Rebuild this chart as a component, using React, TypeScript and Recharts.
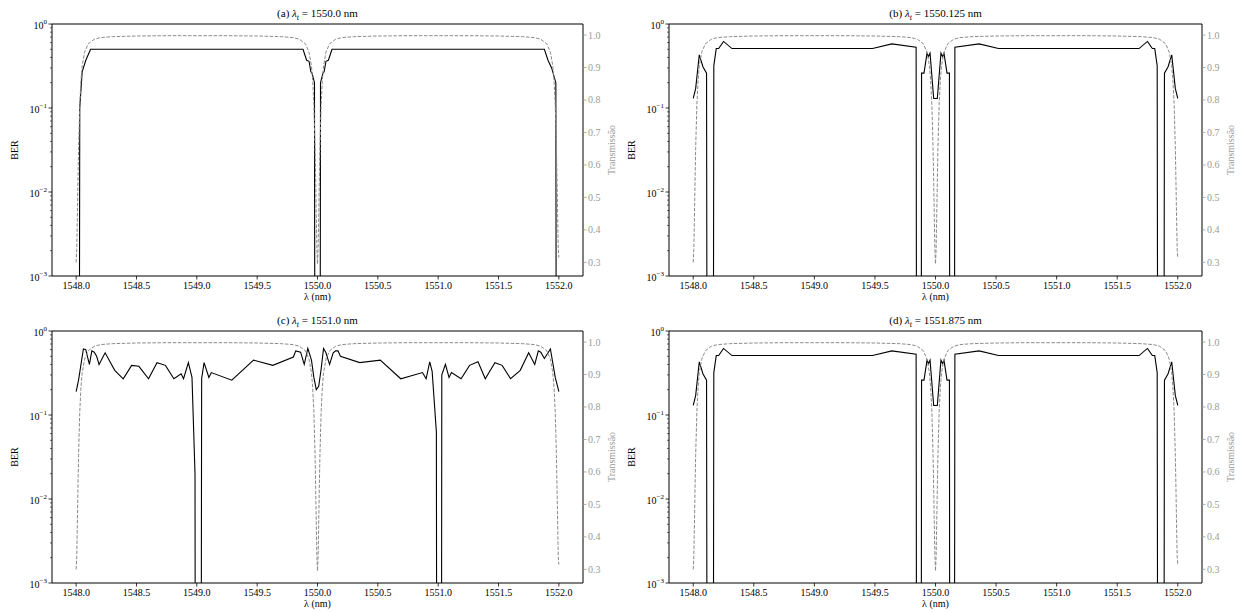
import React from 'react';
import { ComposedChart, Line, XAxis, YAxis, ReferenceLine } from 'recharts';

const FONT = '"Liberation Serif", "DejaVu Serif", serif';
const GREY = '#9a9a9a';
// BER of exactly 0: matplotlib clips these far below the log axis
const ZERO = 1e-30;

// filter transmission (dashed, right axis) – same in all four panels
const transWl = [
  1548.0, 1548.005, 1548.01, 1548.015, 1548.02, 1548.03, 1548.04, 1548.05, 1548.07, 1548.1,
  1548.15, 1548.2, 1548.3, 1548.5, 1548.75, 1549.0, 1549.25, 1549.5, 1549.7, 1549.8,
  1549.85, 1549.9, 1549.93, 1549.95, 1549.96, 1549.97, 1549.98, 1549.985, 1549.99, 1549.995,
  1550.0, 1550.005, 1550.01, 1550.015, 1550.02, 1550.03, 1550.04, 1550.05, 1550.07, 1550.1,
  1550.15, 1550.2, 1550.3, 1550.5, 1550.75, 1551.0, 1551.25, 1551.5, 1551.7, 1551.8,
  1551.85, 1551.9, 1551.93, 1551.95, 1551.96, 1551.97, 1551.98, 1551.985, 1551.99, 1551.995,
  1552.0,
];
const transVal = [
  0.3, 0.34, 0.44, 0.55, 0.65, 0.785, 0.86, 0.905, 0.947, 0.973,
  0.987, 0.992, 0.995, 0.997, 0.998, 0.998, 0.998, 0.997, 0.995, 0.992,
  0.987, 0.973, 0.947, 0.905, 0.86, 0.785, 0.65, 0.55, 0.44, 0.34,
  0.295, 0.34, 0.44, 0.55, 0.65, 0.785, 0.86, 0.905, 0.947, 0.973,
  0.987, 0.992, 0.995, 0.997, 0.998, 0.998, 0.998, 0.997, 0.995, 0.992,
  0.987, 0.973, 0.947, 0.905, 0.86, 0.785, 0.65, 0.55, 0.44, 0.34,
  0.315,
];

// (a) lambda_t = 1550.0 nm
const berWlA = [
  1548.0, 1548.03, 1548.05, 1548.08, 1548.12, 1549.88, 1549.91, 1549.93, 1549.945, 1549.955,
  1549.975, 1550.0, 1550.025, 1550.045, 1550.055, 1550.07, 1550.09, 1550.12, 1551.88, 1551.91,
  1551.94, 1551.975, 1552.0,
];
const berA = [
  ZERO, 0.1, 0.27, 0.37, 0.5, 0.5, 0.37, 0.36, 0.27, 0.26,
  0.2, ZERO, 0.2, 0.26, 0.27, 0.36, 0.37, 0.5, 0.5, 0.37,
  0.3, 0.2, ZERO,
];

// (b) lambda_t = 1550.125 nm and (d) lambda_t = 1551.875 nm (identical curves)
const berWlB = [
  1548.0, 1548.02, 1548.05, 1548.08, 1548.11, 1548.14, 1548.17, 1548.19, 1548.21, 1548.25,
  1548.32, 1549.48, 1549.64, 1549.84, 1549.865, 1549.885, 1549.905, 1549.93, 1549.942, 1549.955,
  1549.985, 1550.015, 1550.045, 1550.058, 1550.07, 1550.095, 1550.115, 1550.135, 1550.16, 1550.36,
  1550.52, 1551.68, 1551.75, 1551.79, 1551.81, 1551.83, 1551.86, 1551.89, 1551.92, 1551.95,
  1551.98, 1552.0,
];
const berB = [
  0.13, 0.17, 0.43, 0.31, 0.26, ZERO, 0.32, 0.51, 0.51, 0.62,
  0.51, 0.51, 0.58, 0.53, ZERO, 0.26, 0.26, 0.45, 0.41, 0.45,
  0.13, 0.13, 0.45, 0.41, 0.45, 0.26, 0.26, ZERO, 0.53, 0.58,
  0.51, 0.51, 0.62, 0.51, 0.51, 0.32, ZERO, 0.26, 0.31, 0.43,
  0.17, 0.13,
];

// (c) lambda_t = 1551.0 nm
const berWlC = [
  1548.0, 1548.02, 1548.06, 1548.08, 1548.09, 1548.11, 1548.13, 1548.15, 1548.17, 1548.19,
  1548.24, 1548.32, 1548.39, 1548.46, 1548.52, 1548.6, 1548.67, 1548.74, 1548.81, 1548.87,
  1548.89, 1548.93, 1548.96, 1548.985, 1549.01, 1549.04, 1549.06, 1549.1, 1549.12, 1549.29,
  1549.47, 1549.63, 1549.8, 1549.82, 1549.86, 1549.89, 1549.92, 1549.95, 1549.97, 1549.99,
  1550.01, 1550.03, 1550.05, 1550.07, 1550.1, 1550.13, 1550.15, 1550.17, 1550.19, 1550.35,
  1550.52, 1550.69, 1550.87, 1550.9, 1550.93, 1550.95, 1550.985, 1551.01, 1551.03, 1551.06,
  1551.09, 1551.11, 1551.19, 1551.26, 1551.33, 1551.39, 1551.47, 1551.53, 1551.6, 1551.68,
  1551.75, 1551.8, 1551.83, 1551.85, 1551.88, 1551.93, 1551.97, 1552.0,
];
const berC = [
  0.19, 0.26, 0.61, 0.6, 0.52, 0.4, 0.58, 0.56, 0.5, 0.4,
  0.55, 0.34, 0.27, 0.39, 0.38, 0.27, 0.42, 0.39, 0.27, 0.31,
  0.27, 0.42, 0.28, 0.02, ZERO, 0.27, 0.42, 0.28, 0.32, 0.26,
  0.45, 0.39, 0.49, 0.58, 0.56, 0.4, 0.62, 0.45, 0.28, 0.2,
  0.22, 0.35, 0.62, 0.55, 0.4, 0.55, 0.58, 0.58, 0.5, 0.42,
  0.45, 0.27, 0.32, 0.27, 0.43, 0.33, 0.063, ZERO, 0.3, 0.4,
  0.28, 0.32, 0.27, 0.39, 0.43, 0.27, 0.42, 0.39, 0.27, 0.34,
  0.55, 0.4, 0.58, 0.56, 0.47, 0.61, 0.28, 0.19,
];

const xTicks = [1548.0, 1548.5, 1549.0, 1549.5, 1550.0, 1550.5, 1551.0, 1551.5, 1552.0];
const berTicks = [
  0.001, 0.002, 0.003, 0.004, 0.005, 0.006, 0.007, 0.008, 0.009,
  0.01, 0.02, 0.03, 0.04, 0.05, 0.06, 0.07, 0.08, 0.09,
  0.1, 0.2, 0.3, 0.4, 0.5, 0.6, 0.7, 0.8, 0.9, 1,
];
const transTicks = [0.3, 0.4, 0.5, 0.6, 0.7, 0.8, 0.9, 1.0];

const panels = [
  { id: 'a', lt: '1550.0', wl: berWlA, ber: berA, left: 0, top: 0, plotL: 52, plotR: 583, plotT: 24, plotB: 276 },
  { id: 'b', lt: '1550.125', wl: berWlB, ber: berB, left: 624, top: 0, plotL: 669, plotR: 1202, plotT: 24, plotB: 276 },
  { id: 'c', lt: '1551.0', wl: berWlC, ber: berC, left: 0, top: 306, plotL: 52, plotR: 583, plotT: 331, plotB: 583 },
  { id: 'd', lt: '1551.875', wl: berWlB, ber: berB, left: 624, top: 306, plotL: 669, plotR: 1202, plotT: 331, plotB: 583 },
];

const XTick = (props: any) => {
  const { x, y, payload } = props;
  return (
    <g>
      <line x1={x} x2={x} y1={y} y2={y + 3.5} stroke="#000" strokeWidth={0.8} />
      <text x={x} y={y + 13} textAnchor="middle" fontSize={10} fontFamily={FONT} fill="#000">
        {Number(payload.value).toFixed(1)}
      </text>
    </g>
  );
};

const BerTick = (props: any) => {
  const { x, y, payload } = props;
  const lg = Math.log10(payload.value);
  const exp = Math.round(lg);
  const major = Math.abs(lg - exp) < 1e-6;
  return (
    <g>
      <line x1={x} x2={x - (major ? 3.5 : 2)} y1={y} y2={y} stroke="#000" strokeWidth={major ? 0.8 : 0.6} />
      {major && (
        <text x={x - 5} y={y + 5} textAnchor="end" fontSize={10} fontFamily={FONT} fill="#000">
          10
          <tspan dy={-5} fontSize={7}>{exp === 0 ? '0' : `\u2212${-exp}`}</tspan>
        </text>
      )}
    </g>
  );
};

const TransTick = (props: any) => {
  const { x, y, payload } = props;
  return (
    <g>
      <line x1={x} x2={x + 3.5} y1={y} y2={y} stroke={GREY} strokeWidth={0.8} />
      <text x={x + 5} y={y + 3.5} textAnchor="start" fontSize={10} fontFamily={FONT} fill={GREY}>
        {Number(payload.value).toFixed(1)}
      </text>
    </g>
  );
};

const Panel = ({ p }: { p: (typeof panels)[number] }) => {
  const berData = p.wl.map((x, i) => ({ x, y: p.ber[i] }));
  const transData = transWl.map((x, i) => ({ x, y: transVal[i] }));
  const W = 624;
  const H = 306;
  const midX = (p.plotL + p.plotR) / 2;
  const midY = (p.plotT + p.plotB) / 2;

  return (
    <>
      <div style={{ position: 'absolute', left: p.left, top: p.top, width: W, height: H }}>
        <ComposedChart
          width={W}
          height={H}
          margin={{ top: p.plotT - p.top, right: 0, bottom: 0, left: 0 }}
        >
          <XAxis
            type="number"
            dataKey="x"
            domain={[1547.8, 1552.2]}
            ticks={xTicks}
            interval={0}
            allowDataOverflow
            height={p.top + H - p.plotB}
            tickSize={0}
            tickMargin={0}
            tickLine={false}
            tick={XTick}
            axisLine={{ stroke: '#000', strokeWidth: 1 }}
          />
          <YAxis
            yAxisId="ber"
            orientation="left"
            scale="log"
            domain={[0.001, 1]}
            ticks={berTicks}
            interval={0}
            allowDataOverflow
            width={p.plotL - p.left}
            tickSize={0}
            tickMargin={0}
            tickLine={false}
            tick={BerTick}
            axisLine={{ stroke: '#000', strokeWidth: 1 }}
          />
          <YAxis
            yAxisId="t"
            orientation="right"
            domain={[0.258, 1.034]}
            ticks={transTicks}
            interval={0}
            allowDataOverflow
            width={p.left + W - p.plotR}
            tickSize={0}
            tickMargin={0}
            tickLine={false}
            tick={TransTick}
            axisLine={{ stroke: '#000', strokeWidth: 1 }}
          />
          <ReferenceLine y={1} yAxisId="ber" stroke="#000" strokeWidth={1} />
          <Line
            data={berData}
            dataKey="y"
            yAxisId="ber"
            type="linear"
            stroke="#000"
            strokeWidth={1.1}
            dot={false}
            activeDot={false}
            isAnimationActive={false}
          />
          <Line
            data={transData}
            dataKey="y"
            yAxisId="t"
            type="linear"
            stroke="#8a8a8a"
            strokeWidth={1}
            strokeDasharray="3.5 1.6"
            dot={false}
            activeDot={false}
            isAnimationActive={false}
          />
        </ComposedChart>
      </div>
      <div
        style={{
          position: 'absolute',
          left: p.plotL,
          width: p.plotR - p.plotL,
          top: p.plotT - 17,
          textAlign: 'center',
          fontFamily: FONT,
          fontSize: 11,
          lineHeight: '12px',
          whiteSpace: 'nowrap',
        }}
      >
        ({p.id}) <i>λ</i>
        <sub style={{ fontSize: 8 }}>
          <i>t</i>
        </sub>{' '}
        = {p.lt} nm
      </div>
      <div
        style={{
          position: 'absolute',
          left: p.plotL,
          width: p.plotR - p.plotL,
          top: p.plotB + 15,
          textAlign: 'center',
          fontFamily: FONT,
          fontSize: 10,
          lineHeight: '12px',
        }}
      >
        λ (nm)
      </div>
      <div
        style={{
          position: 'absolute',
          left: p.plotL - 37 - 30,
          top: midY - 6,
          width: 60,
          textAlign: 'center',
          fontFamily: FONT,
          fontSize: 10,
          lineHeight: '12px',
          transform: 'rotate(-90deg)',
        }}
      >
        BER
      </div>
      <div
        style={{
          position: 'absolute',
          left: p.plotR + 29 - 40,
          top: midY - 6,
          width: 80,
          textAlign: 'center',
          fontFamily: FONT,
          fontSize: 10,
          lineHeight: '12px',
          color: GREY,
          transform: 'rotate(-90deg)',
        }}
      >
        Transmissão
      </div>
    </>
  );
};

export default function App() {
  return (
    <div style={{ position: 'absolute', left: 0, top: 0, width: 1248, height: 612, background: '#fff' }}>
      {panels.map((p) => (
        <Panel key={p.id} p={p} />
      ))}
    </div>
  );
}
